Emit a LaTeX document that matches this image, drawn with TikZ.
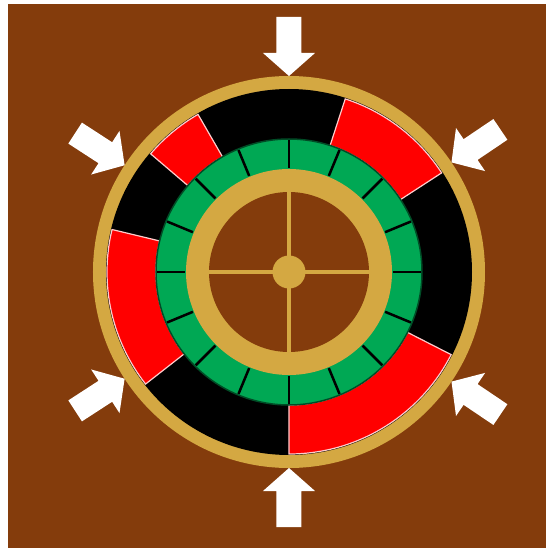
\documentclass[tikz,border=0pt]{standalone}
\usepackage{tikz}
\usepackage{xcolor}
\definecolor{felt}{RGB}{132,60,12}
\definecolor{rim}{RGB}{212,168,66}
\definecolor{baize}{RGB}{0,168,84}
\definecolor{pocket}{RGB}{255,0,0}

\begin{document}
\begin{tikzpicture}[x=1pt, y=1pt]
  \useasboundingbox (-289,-280) rectangle (257,272);
  \fill[white] (-289,-280) rectangle (257,272);
  \fill[felt] (-281,-276) rectangle (257,268);
  \coordinate (hub) at (0,0);
  % aro exterior e faixa preta por baixo das casas vermelhas
  \fill[rim] (hub) circle (196);
  \fill[black] (hub) circle (183);
  \foreach \a/\b in {33/72, 120/139.5, 166.5/218, 270/333}
    \filldraw[pocket, draw=white!80!pocket, line width=1.2]
      (\a:182) arc[start angle=\a, end angle=\b, radius=182]
      -- (\b:133) arc[start angle=\b, end angle=\a, radius=133] -- cycle;
  % anel verde com 16 divisões
  \filldraw[baize, draw=baize!45!black, line width=1.5] (hub) circle (133);
  \foreach \k in {0,...,15}
    \draw[black, line width=2.5] (\k*22.5:104) -- (\k*22.5:132);
  \fill[rim] (hub) circle (103);
  \fill[felt] (hub) circle (80);
  \draw[rim, line width=4] (-80,0) -- (80,0);
  \draw[rim, line width=4] (0,-80) -- (0,80);
  \fill[rim] (hub) circle (16.5);
  % setas a apontar para a roda
  \foreach \ang in {90, 34, -34, -90, 213, 147}
    \fill[white, rotate=\ang] (196,0) -- (219,26) -- (219,12.5) -- (255,12.5)
      -- (255,-12.5) -- (219,-12.5) -- (219,-26) -- cycle;
\end{tikzpicture}
\end{document}
